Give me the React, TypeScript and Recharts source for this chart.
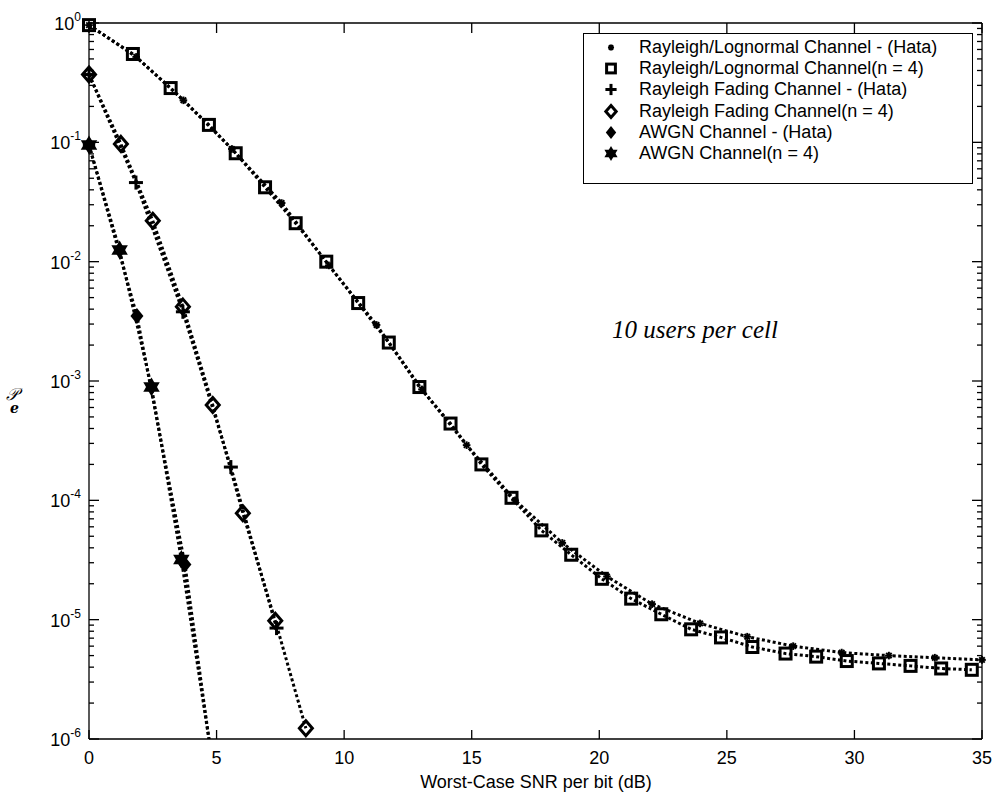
import React from "react";
import { ComposedChart, Line, ReferenceLine, Scatter, XAxis, YAxis } from "recharts";

// Rayleigh/Lognormal channel
const rlHataX = [0, 1.85, 3.7, 5.6, 7.55, 9.4, 11.27, 13.05, 14.8, 16.7, 18.55, 20.3, 22.07, 23.95, 25.8, 27.6, 29.5, 31.35, 33.15, 35.0];
const rlHataY = [0.96, 0.52, 0.225, 0.088, 0.031, 0.0093, 0.00295, 8.5e-4, 2.9e-4, 1.0e-4, 4.4e-5, 2.3e-5, 1.35e-5, 9.3e-6, 7.2e-6, 6.0e-6, 5.3e-6, 5.0e-6, 4.8e-6, 4.6e-6];
const rlN4X = [0, 1.72, 3.2, 4.7, 5.75, 6.9, 8.1, 9.3, 10.55, 11.75, 12.95, 14.17, 15.38, 16.56, 17.73, 18.9, 20.1, 21.25, 22.43, 23.6, 24.77, 26.0, 27.3, 28.5, 29.7, 30.96, 32.2, 33.4, 34.6];
const rlN4Y = [0.96, 0.55, 0.285, 0.14, 0.081, 0.042, 0.021, 0.01, 0.0045, 0.0021, 8.9e-4, 4.4e-4, 2.0e-4, 1.05e-4, 5.6e-5, 3.5e-5, 2.2e-5, 1.5e-5, 1.11e-5, 8.3e-6, 7.1e-6, 5.9e-6, 5.2e-6, 4.9e-6, 4.5e-6, 4.3e-6, 4.1e-6, 3.9e-6, 3.8e-6];

// Rayleigh fading channel
const rfHataX = [0, 1.84, 3.68, 5.56, 7.35];
const rfHataY = [0.37, 0.046, 0.0038, 1.9e-4, 8.5e-6];
const rfN4X = [0, 1.25, 2.5, 3.68, 4.85, 6.03, 7.3, 8.5];
const rfN4Y = [0.37, 0.097, 0.022, 0.0042, 6.3e-4, 7.8e-5, 9.8e-6, 1.23e-6];

// AWGN channel (last points fall below the axis and are clipped)
const awHataX = [0, 1.88, 3.76, 5.64];
const awHataY = [0.095, 0.0035, 2.9e-5, 3.5e-8];
const awN4X = [0, 1.2, 2.45, 3.62, 4.82];
const awN4Y = [0.095, 0.0125, 8.9e-4, 3.2e-5, 6.8e-7];

const xTicks = [0, 5, 10, 15, 20, 25, 30, 35];
const yDecades = [-6, -5, -4, -3, -2, -1, 0];
const yTicks: number[] = [];
yDecades.forEach((e) => {
  yTicks.push(Math.pow(10, e));
  if (e < 0) for (let m = 2; m <= 9; m++) yTicks.push(m * Math.pow(10, e));
});
yTicks.sort((a, b) => a - b);

const FONT = "'Liberation Sans', Arial, Helvetica, sans-serif";
const Y_DOMAIN: [number, number] = [1e-6, 1];

// plot frame (pixels)
const LEFT = 89;
const RIGHT = 982;
const TOP = 23;
const BOTTOM = 739;

const pts = (xs: number[], ys: number[]) => xs.map((x, i) => ({ x, y: ys[i] }));

const isDecade = (v: number) => Math.abs(Math.log10(v) - Math.round(Math.log10(v))) < 1e-6;

function LeftTick(props: any) {
  const { y, payload } = props;
  const v = payload.value;
  const major = isDecade(v);
  return (
    <g>
      <line x1={LEFT} y1={y} x2={LEFT + (major ? 10 : 5)} y2={y} stroke="#000" strokeWidth={1.3} />
      {major && (
        <text x={LEFT - 8} y={y + 7} textAnchor="end" fontSize={18} fontFamily={FONT} fill="#000">
          10
          <tspan dy={-9} fontSize={12}>
            {String(Math.round(Math.log10(v)))}
          </tspan>
        </text>
      )}
    </g>
  );
}

function RightTick(props: any) {
  const { y, payload } = props;
  const major = isDecade(payload.value);
  return <line x1={RIGHT} y1={y} x2={RIGHT - (major ? 10 : 5)} y2={y} stroke="#000" strokeWidth={1.3} />;
}

function BottomTick(props: any) {
  const { x, payload } = props;
  return (
    <g>
      <line x1={x} y1={BOTTOM} x2={x} y2={BOTTOM - 9} stroke="#000" strokeWidth={1.3} />
      <text x={x} y={BOTTOM + 25} textAnchor="middle" fontSize={18} fontFamily={FONT} fill="#000">
        {payload.value}
      </text>
    </g>
  );
}

function TopTick(props: any) {
  const { x } = props;
  return <line x1={x} y1={TOP} x2={x} y2={TOP + 10} stroke="#000" strokeWidth={1.3} />;
}

type M = { cx?: number; cy?: number; s?: number };

const Asterisk = ({ cx = 0, cy = 0, s = 1 }: M) => {
  const r = 3.8 * s;
  const d = r * 0.72;
  return (
    <g stroke="#000" strokeWidth={2}>
      <line x1={cx - r} y1={cy} x2={cx + r} y2={cy} />
      <line x1={cx} y1={cy - r} x2={cx} y2={cy + r} />
      <line x1={cx - d} y1={cy - d} x2={cx + d} y2={cy + d} />
      <line x1={cx - d} y1={cy + d} x2={cx + d} y2={cy - d} />
    </g>
  );
};

const SquareMk = ({ cx = 0, cy = 0, s = 1 }: M) => {
  const h = 5.5 * s;
  return <rect x={cx - h} y={cy - h} width={2 * h} height={2 * h} fill="none" stroke="#000" strokeWidth={3} />;
};

const PlusMk = ({ cx = 0, cy = 0, s = 1 }: M) => {
  const r = 7 * s;
  return (
    <g stroke="#000" strokeWidth={3}>
      <line x1={cx - r} y1={cy} x2={cx + r} y2={cy} />
      <line x1={cx} y1={cy - r} x2={cx} y2={cy + r} />
    </g>
  );
};

const DiamondMk = ({ cx = 0, cy = 0, s = 1 }: M) => {
  const w = 6.5 * s;
  const h = 7.5 * s;
  return (
    <polygon
      points={`${cx},${cy - h} ${cx + w},${cy} ${cx},${cy + h} ${cx - w},${cy}`}
      fill="none"
      stroke="#000"
      strokeWidth={3}
    />
  );
};

const FilledDiamondMk = ({ cx = 0, cy = 0, s = 1 }: M) => {
  const w = 6.5 * s;
  const h = 8 * s;
  return <polygon points={`${cx},${cy - h} ${cx + w},${cy} ${cx},${cy + h} ${cx - w},${cy}`} fill="#000" />;
};

const HexagramMk = ({ cx = 0, cy = 0, s = 1 }: M) => {
  const r = 9.5 * s;
  const tri = (rot: number) =>
    [0, 1, 2]
      .map((k) => {
        const a = rot + (k * 2 * Math.PI) / 3;
        return `${cx + r * Math.sin(a)},${cy - r * Math.cos(a)}`;
      })
      .join(" ");
  return (
    <g fill="#000">
      <polygon points={tri(0)} />
      <polygon points={tri(Math.PI)} />
    </g>
  );
};

const series = [
  { name: "Rayleigh/Lognormal Channel - (Hata)", data: pts(rlHataX, rlHataY), Mk: Asterisk },
  { name: "Rayleigh/Lognormal Channel(n = 4)", data: pts(rlN4X, rlN4Y), Mk: SquareMk },
  { name: "Rayleigh Fading Channel - (Hata)", data: pts(rfHataX, rfHataY), Mk: PlusMk },
  { name: "Rayleigh Fading Channel(n = 4)", data: pts(rfN4X, rfN4Y), Mk: DiamondMk },
  { name: "AWGN Channel - (Hata)", data: pts(awHataX, awHataY), Mk: FilledDiamondMk },
  { name: "AWGN Channel(n = 4)", data: pts(awN4X, awN4Y), Mk: HexagramMk },
];

export default function App() {
  return (
    <div style={{ position: "absolute", left: 0, top: 0, width: 994, height: 797, background: "#fff" }}>
      <ComposedChart
        width={994}
        height={797}
        margin={{ top: TOP - 1, right: 994 - RIGHT - 1, bottom: 797 - BOTTOM - 40, left: LEFT - 60 }}
      >
        <XAxis
          xAxisId="b"
          type="number"
          dataKey="x"
          domain={[0, 35]}
          ticks={xTicks}
          interval={0}
          height={40}
          tickSize={0}
          tickMargin={0}
          tickLine={false}
          axisLine={{ stroke: "#000", strokeWidth: 1.3 }}
          tick={<BottomTick />}
        />
        <XAxis
          xAxisId="t"
          orientation="top"
          type="number"
          dataKey="x"
          domain={[0, 35]}
          allowDataOverflow
          ticks={xTicks}
          interval={0}
          height={1}
          tickSize={0}
          tickMargin={0}
          tickLine={false}
          axisLine={{ stroke: "#000", strokeWidth: 1.3 }}
          tick={<TopTick />}
        />
        <YAxis
          yAxisId="l"
          type="number"
          dataKey="y"
          scale="log"
          domain={Y_DOMAIN}
          ticks={yTicks}
          interval={0}
          width={60}
          tickSize={0}
          tickMargin={0}
          tickLine={false}
          axisLine={false}
          tick={<LeftTick />}
        />
        <YAxis
          yAxisId="r"
          orientation="right"
          type="number"
          dataKey="y"
          scale="log"
          domain={Y_DOMAIN}
          allowDataOverflow
          ticks={yTicks}
          interval={0}
          width={1}
          tickSize={0}
          tickMargin={0}
          tickLine={false}
          axisLine={{ stroke: "#000", strokeWidth: 1.3 }}
          tick={<RightTick />}
        />
        <YAxis yAxisId="clip" hide type="number" dataKey="y" scale="log" domain={Y_DOMAIN} allowDataOverflow />
        <ReferenceLine xAxisId="b" yAxisId="l" x={0} stroke="#000" strokeWidth={1.3} />
        {series.map((s) => (
          <Line
            key={"l-" + s.name}
            xAxisId="b"
            yAxisId="clip"
            data={s.data}
            dataKey="y"
            type="linear"
            stroke="#000"
            strokeWidth={3}
            strokeDasharray="3 2.5"
            dot={false}
            activeDot={false}
            isAnimationActive={false}
          />
        ))}
        {series.map((s) => (
          <Scatter
            key={"s-" + s.name}
            xAxisId="b"
            yAxisId="l"
            data={s.data.filter((p) => p.y >= 1e-6)}
            dataKey="y"
            isAnimationActive={false}
            shape={(p: any) => <s.Mk cx={p.cx} cy={p.cy} />}
          />
        ))}
      </ComposedChart>

      {/* legend */}
      <div
        style={{
          position: "absolute",
          left: 583,
          top: 33,
          width: 388,
          height: 149,
          border: "1px solid #000",
          background: "#fff",
          fontFamily: FONT,
          fontSize: 18,
          color: "#000",
        }}
      >
        {series.map((s, i) => (
          <div key={s.name} style={{ position: "absolute", left: 0, top: 3 + i * 21.2, height: 21, width: "100%" }}>
            <svg width={24} height={21} style={{ position: "absolute", left: 15, top: 0 }}>
              <s.Mk cx={12} cy={10.5} s={0.8} />
            </svg>
            <span style={{ position: "absolute", left: 55, top: 0, lineHeight: "21px", whiteSpace: "nowrap" }}>
              {s.name}
            </span>
          </div>
        ))}
      </div>

      {/* annotation */}
      <div
        style={{
          position: "absolute",
          left: 612,
          top: 316,
          fontFamily: "'Liberation Serif', 'Times New Roman', serif",
          fontStyle: "italic",
          fontSize: 25,
          lineHeight: "28px",
          whiteSpace: "nowrap",
        }}
      >
        10 users per cell
      </div>

      {/* y label */}
      <div
        style={{
          position: "absolute",
          left: 6,
          top: 385,
          fontFamily: "'DejaVu Serif', serif",
          fontStyle: "italic",
          fontSize: 17,
          lineHeight: "18px",
          whiteSpace: "nowrap",
        }}
      >
        𝒫
        <span style={{ fontSize: 14, fontWeight: "bold", marginLeft: -8, position: "relative", top: 13 }}>e</span>
      </div>

      {/* x label */}
      <div
        style={{
          position: "absolute",
          left: 0,
          width: 1072,
          top: 771,
          textAlign: "center",
          fontFamily: FONT,
          fontSize: 18,
          lineHeight: "22px",
        }}
      >
        Worst-Case SNR per bit (dB)
      </div>
    </div>
  );
}
